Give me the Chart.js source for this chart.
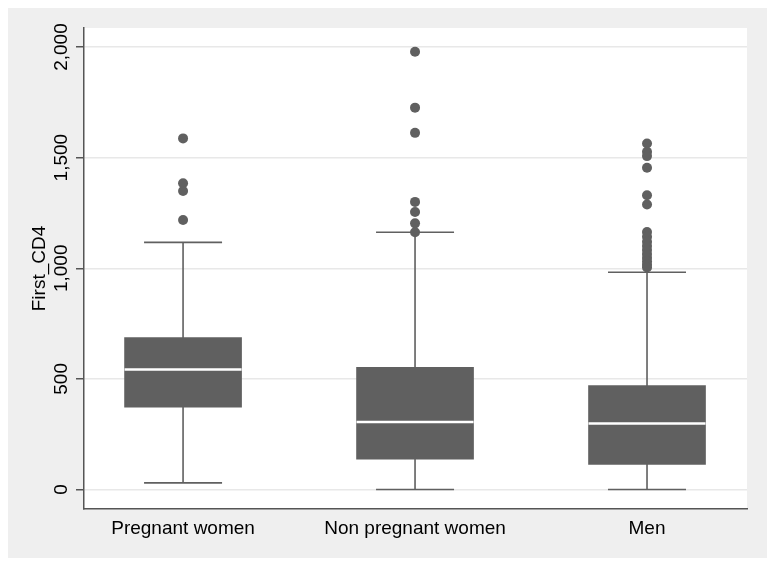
<!DOCTYPE html>
<html>
<head>
<meta charset="utf-8">
<script src="https://cdn.jsdelivr.net/npm/chart.js"></script>
<style>
  body { margin: 0; background: #fff; }
  #wrap { position: absolute; left: 8px; top: 8px; width: 759px; height: 550px; background: #efefef; }
</style>
</head>
<body>
<div id="wrap"><canvas id="boxChart" width="759" height="550"></canvas></div>
<script>
// box plot of First_CD4 by group
var categories = ['Pregnant women', 'Non pregnant women', 'Men'];
var q1 = [372, 137, 114];
var medians = [542, 305, 298];
var q3 = [687, 552, 470];
var whiskerLow = [30, 0, 0];
var whiskerHigh = [1117, 1163, 982];
var outliersPregnant = [1587, 1384, 1349, 1218];
var outliersNonPregnant = [1979, 1726, 1612, 1300, 1254, 1203, 1163];
var outliersMen = [1564, 1527, 1507, 1454, 1330, 1288, 1164, 1142, 1120, 1101, 1083, 1064, 1047, 1031, 1016, 1004];
var yTicks = [0, 500, 1000, 1500, 2000];

var boxColor = '#606060';
Chart.defaults.font.family = '"Liberation Sans", Arial, sans-serif';
Chart.defaults.font.size = 19;
Chart.defaults.color = '#000';

var boxData = categories.map(function (c, i) {
  return { x: i + 1, y: [q1[i], q3[i]] };
});

var outlierData = [];
[outliersPregnant, outliersNonPregnant, outliersMen].forEach(function (list, i) {
  list.forEach(function (v) { outlierData.push({ x: i + 1, y: v }); });
});

// white plot area, whiskers and median lines
var boxExtras = {
  id: 'boxExtras',
  beforeDraw: function (chart) {
    var a = chart.chartArea, ctx = chart.ctx;
    ctx.save();
    ctx.fillStyle = '#fff';
    ctx.fillRect(a.left, a.top, a.right - a.left, a.bottom - a.top);
    ctx.restore();
  },
  beforeDatasetsDraw: function (chart) {
    var ctx = chart.ctx, xs = chart.scales.x, ys = chart.scales.y;
    ctx.save();
    ctx.strokeStyle = boxColor;
    ctx.lineWidth = 1.6;
    for (var i = 0; i < categories.length; i++) {
      var x = xs.getPixelForValue(i + 1);
      var yLo = ys.getPixelForValue(whiskerLow[i]);
      var yHi = ys.getPixelForValue(whiskerHigh[i]);
      ctx.beginPath();
      ctx.moveTo(x, yLo); ctx.lineTo(x, yHi);
      ctx.moveTo(x - 39, yLo); ctx.lineTo(x + 39, yLo);
      ctx.moveTo(x - 39, yHi); ctx.lineTo(x + 39, yHi);
      ctx.stroke();
    }
    ctx.restore();
  },
  afterDatasetsDraw: function (chart) {
    var ctx = chart.ctx, xs = chart.scales.x, ys = chart.scales.y;
    var bars = chart.getDatasetMeta(0).data;
    ctx.save();
    ctx.strokeStyle = '#fff';
    ctx.lineWidth = 2.5;
    for (var i = 0; i < categories.length; i++) {
      var x = xs.getPixelForValue(i + 1);
      var y = ys.getPixelForValue(medians[i]);
      var w = bars[i].width / 2;
      ctx.beginPath();
      ctx.moveTo(x - w, y); ctx.lineTo(x + w, y);
      ctx.stroke();
    }
    ctx.restore();
  }
};

new Chart(document.getElementById('boxChart'), {
  type: 'bar',
  data: {
    datasets: [{
      type: 'bar',
      data: boxData,
      backgroundColor: boxColor,
      borderWidth: 0,
      barThickness: 117,
      order: 2
    }, {
      type: 'scatter',
      data: outlierData,
      backgroundColor: boxColor,
      borderWidth: 0,
      pointRadius: 5,
      pointHoverRadius: 5,
      order: 1
    }]
  },
  options: {
    responsive: false,
    animation: false,
    layout: { padding: { top: 20, right: 20, left: 0, bottom: 0 } },
    plugins: { legend: { display: false }, tooltip: { enabled: false } },
    scales: {
      x: {
        type: 'linear',
        offset: false,
        min: 0.573,
        max: 3.431,
        afterBuildTicks: function (s) {
          s.ticks = categories.map(function (c, i) { return { value: i + 1 }; });
        },
        ticks: {
          autoSkip: false,
          maxRotation: 0,
          padding: 8,
          callback: function (v, i) { return categories[i]; }
        },
        grid: { display: false, drawTicks: false },
        border: { color: '#555', width: 1.5 },
        afterFit: function (s) { s.height = 49; }
      },
      y: {
        min: -88,
        max: 2086,
        afterBuildTicks: function (s) {
          s.ticks = yTicks.map(function (v) { return { value: v }; });
        },
        ticks: {
          minRotation: 90,
          maxRotation: 90,
          crossAlign: 'center',
          padding: -10,
          callback: function (v) { return v.toLocaleString('en-US'); }
        },
        grid: { color: '#e8e8e8', lineWidth: 1.5, tickColor: '#555', tickLength: 8, tickWidth: 1.5 },
        border: { color: '#555', width: 1.5 },
        title: { display: true, text: 'First_CD4', padding: { top: 20, bottom: 0 } },
        afterFit: function (s) { s.width = 76; }
      }
    }
  },
  plugins: [boxExtras]
});
</script>
</body>
</html>
